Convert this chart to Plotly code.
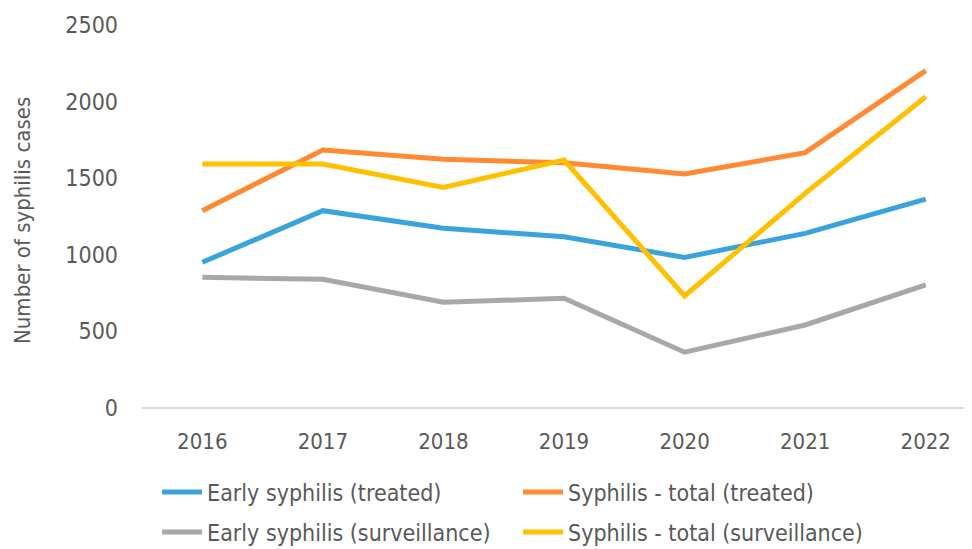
import plotly.graph_objects as go

years = ['2016', '2017', '2018', '2019', '2020', '2021', '2022']

early_treated = [951, 1288, 1173, 1118, 983, 1140, 1364]
total_treated = [1288, 1684, 1623, 1601, 1527, 1667, 2202]
early_surveillance = [853, 840, 690, 716, 364, 542, 803]
total_surveillance = [1592, 1592, 1440, 1619, 731, 1401, 2032]

y_ticks = [0, 500, 1000, 1500, 2000, 2500]

FONT = 'DejaVu Sans Condensed, Liberation Sans, sans-serif'
GREY_TEXT = '#595959'

# page body adds an 8px offset, so layout numbers below are 8px less than on screen
fig = go.Figure()

# row 1 of legend -> legend, row 2 -> legend2
series = [
    ('Early syphilis (treated)', early_treated, '#3AA3DC', 'legend'),
    ('Syphilis - total (treated)', total_treated, '#FF8A33', 'legend'),
    ('Early syphilis (surveillance)', early_surveillance, '#A8A8A8', 'legend2'),
    ('Syphilis - total (surveillance)', total_surveillance, '#FFC000', 'legend2'),
]
for name, vals, color, leg in series:
    fig.add_trace(go.Scatter(
        x=years, y=vals, name=name, mode='lines',
        line=dict(color=color, width=5),
        legend=leg,
    ))

PAPER_H = 549 - 17  # paper spans y=17..549

legend_style = dict(
    orientation='h',
    xanchor='left', yanchor='middle',
    x=0.018,
    entrywidth=306, entrywidthmode='pixels',
    font=dict(family=FONT, size=23, color=GREY_TEXT),
    itemwidth=40,
    bgcolor='rgba(0,0,0,0)',
)

fig.update_layout(
    template='none',
    width=972, height=549,
    margin=dict(l=134, r=0, t=17, b=0, autoexpand=False),
    plot_bgcolor='white', paper_bgcolor='white',
    font=dict(family=FONT, size=22, color=GREY_TEXT),
    legend=dict(legend_style, y=(549 - 484) / PAPER_H),
    legend2=dict(legend_style, y=(549 - 524) / PAPER_H),
    xaxis=dict(
        type='category',
        range=[-0.5, 6.45],
        automargin=False,
        showgrid=False,
        showline=False,
        zeroline=False,
        ticks='',
        ticklabelstandoff=18,
        tickfont=dict(family=FONT, size=22, color=GREY_TEXT),
    ),
    yaxis=dict(
        domain=[(549 - 400) / PAPER_H, 1],
        range=[0, 2500],
        automargin=False,
        tickvals=y_ticks,
        showgrid=False,
        zeroline=True, zerolinecolor='#D9D9D9', zerolinewidth=2,
        showline=False,
        ticks='',
        ticklabelstandoff=23,
        tickfont=dict(family=FONT, size=23, color=GREY_TEXT),
    ),
    annotations=[dict(
        text='Number of syphilis cases', textangle=-90,
        xref='paper', yref='paper', x=0, y=(549 - 213) / PAPER_H,
        xanchor='center', yanchor='middle', xshift=-120, showarrow=False,
        font=dict(family=FONT, size=22, color=GREY_TEXT),
    )],
)

fig.write_html('out.html')
